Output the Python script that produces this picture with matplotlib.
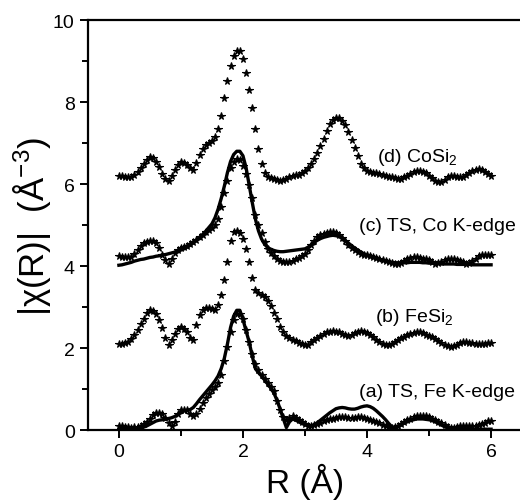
import numpy as np
import matplotlib
matplotlib.use("Agg")
import matplotlib.pyplot as plt
from matplotlib.ticker import MultipleLocator

plt.rcParams['font.family'] = ['Liberation Sans', 'DejaVu Sans']
plt.rcParams['mathtext.default'] = 'regular'

# R grid (Angstrom), 0 to 6 in steps of 0.05
r = np.round(np.arange(0, 121) * 0.05, 2)

# (d) CoSi2 data (stars)
d_data = [6.20, 6.19, 6.18, 6.17, 6.17, 6.22, 6.30, 6.40, 6.50, 6.59,
          6.65, 6.63, 6.55, 6.42, 6.25, 6.12, 6.08, 6.20, 6.35, 6.47,
          6.53, 6.52, 6.47, 6.40, 6.35, 6.52, 6.70, 6.85, 6.95, 7.00,
          7.05, 7.15, 7.35, 7.65, 8.10, 8.52, 8.87, 9.12, 9.25, 9.25,
          9.05, 8.72, 8.30, 7.85, 7.35, 6.85, 6.49, 6.28, 6.18, 6.14,
          6.12, 6.10, 6.08, 6.09, 6.12, 6.17, 6.20, 6.22, 6.22, 6.27,
          6.33, 6.40, 6.48, 6.60, 6.75, 6.92, 7.10, 7.30, 7.46, 7.56,
          7.62, 7.62, 7.55, 7.44, 7.28, 7.08, 6.88, 6.68, 6.50, 6.39,
          6.32, 6.30, 6.28, 6.26, 6.24, 6.22, 6.20, 6.18, 6.16, 6.14,
          6.12, 6.13, 6.16, 6.20, 6.25, 6.29, 6.32, 6.32, 6.30, 6.26,
          6.20, 6.14, 6.08, 6.04, 6.04, 6.10, 6.17, 6.20, 6.20, 6.18,
          6.16, 6.18, 6.22, 6.27, 6.32, 6.35, 6.37, 6.34, 6.30, 6.25,
          6.20]

# (c) TS, Co K-edge data (stars) and fit (line)
c_data = [4.25, 4.23, 4.22, 4.21, 4.22, 4.30, 4.40, 4.48, 4.55, 4.59,
          4.62, 4.60, 4.55, 4.45, 4.28, 4.15, 4.05, 4.18, 4.33, 4.40,
          4.44, 4.47, 4.50, 4.54, 4.58, 4.64, 4.70, 4.76, 4.82, 4.87,
          4.92, 5.00, 5.15, 5.45, 5.78, 6.08, 6.38, 6.55, 6.62, 6.58,
          6.45, 6.25, 5.98, 5.65, 5.25, 5.00, 4.80, 4.58, 4.42, 4.32,
          4.24, 4.18, 4.13, 4.10, 4.09, 4.10, 4.12, 4.16, 4.20, 4.24,
          4.30, 4.40, 4.52, 4.62, 4.70, 4.75, 4.78, 4.80, 4.82, 4.82,
          4.80, 4.75, 4.68, 4.60, 4.52, 4.45, 4.40, 4.35, 4.30, 4.28,
          4.26, 4.24, 4.22, 4.20, 4.18, 4.15, 4.13, 4.10, 4.07, 4.05,
          4.05, 4.08, 4.12, 4.16, 4.20, 4.21, 4.21, 4.20, 4.18, 4.16,
          4.14, 4.10, 4.06, 4.07, 4.10, 4.14, 4.17, 4.17, 4.16, 4.14,
          4.12, 4.09, 4.06, 4.07, 4.12, 4.18, 4.24, 4.27, 4.28, 4.28,
          4.28]
c_fit = [4.02, 4.03, 4.05, 4.07, 4.09, 4.12, 4.14, 4.16, 4.17, 4.19,
         4.21, 4.22, 4.24, 4.25, 4.27, 4.28, 4.30, 4.32, 4.34, 4.36,
         4.39, 4.42, 4.46, 4.51, 4.57, 4.63, 4.70, 4.77, 4.85, 4.94,
         5.03, 5.18, 5.39, 5.65, 5.95, 6.28, 6.55, 6.72, 6.80, 6.80,
         6.69, 6.40, 5.98, 5.55, 5.15, 4.86, 4.66, 4.53, 4.45, 4.41,
         4.38, 4.36, 4.35, 4.35, 4.36, 4.37, 4.38, 4.39, 4.40, 4.41,
         4.42, 4.46, 4.52, 4.58, 4.63, 4.67, 4.70, 4.72, 4.74, 4.75,
         4.74, 4.72, 4.68, 4.62, 4.56, 4.50, 4.44, 4.39, 4.34, 4.30,
         4.26, 4.23, 4.21, 4.18, 4.16, 4.14, 4.12, 4.10, 4.09, 4.08,
         4.08, 4.08, 4.08, 4.08, 4.09, 4.09, 4.09, 4.09, 4.08, 4.08,
         4.07, 4.07, 4.06, 4.06, 4.05, 4.05, 4.05, 4.05, 4.05, 4.04,
         4.04, 4.04, 4.04, 4.04, 4.03, 4.03, 4.03, 4.03, 4.03, 4.03,
         4.03]

# (b) FeSi2 data (stars)
b_data = [2.10, 2.11, 2.12, 2.15, 2.22, 2.32, 2.45, 2.58, 2.72, 2.85,
          2.93, 2.90, 2.82, 2.68, 2.48, 2.25, 2.08, 2.20, 2.35, 2.46,
          2.52, 2.47, 2.38, 2.25, 2.20, 2.55, 2.80, 2.92, 2.98, 2.98,
          2.95, 2.92, 3.05, 3.30, 3.65, 4.10, 4.60, 4.82, 4.86, 4.80,
          4.65, 4.42, 4.10, 3.72, 3.42, 3.35, 3.30, 3.24, 3.15, 3.02,
          2.85, 2.70, 2.52, 2.40, 2.30, 2.24, 2.20, 2.16, 2.12, 2.09,
          2.08, 2.08, 2.15, 2.20, 2.25, 2.30, 2.35, 2.38, 2.40, 2.41,
          2.40, 2.38, 2.35, 2.32, 2.30, 2.32, 2.36, 2.40, 2.42, 2.40,
          2.36, 2.31, 2.26, 2.20, 2.15, 2.10, 2.07, 2.07, 2.10, 2.15,
          2.20, 2.24, 2.28, 2.31, 2.34, 2.36, 2.38, 2.38, 2.36, 2.33,
          2.30, 2.26, 2.22, 2.17, 2.12, 2.07, 2.04, 2.03, 2.04, 2.08,
          2.12, 2.14, 2.14, 2.13, 2.12, 2.11, 2.10, 2.10, 2.11, 2.12,
          2.12]

# (a) TS, Fe K-edge data (stars) and fit (line)
a_data = [0.10, 0.09, 0.08, 0.07, 0.06, 0.07, 0.08, 0.10, 0.14, 0.20,
          0.28, 0.36, 0.42, 0.42, 0.38, 0.30, 0.18, 0.10, 0.20, 0.38,
          0.48, 0.50, 0.48, 0.40, 0.33, 0.40, 0.52, 0.65, 0.78, 0.88,
          0.97, 1.05, 1.15, 1.35, 1.68, 2.02, 2.40, 2.68, 2.82, 2.82,
          2.70, 2.45, 2.15, 1.85, 1.62, 1.47, 1.35, 1.25, 1.15, 1.06,
          0.95, 0.72, 0.48, 0.32, 0.25, 0.30, 0.33, 0.29, 0.24, 0.19,
          0.14, 0.11, 0.10, 0.12, 0.14, 0.18, 0.21, 0.24, 0.26, 0.28,
          0.30, 0.31, 0.31, 0.31, 0.30, 0.30, 0.30, 0.31, 0.31, 0.30,
          0.28, 0.25, 0.22, 0.19, 0.16, 0.13, 0.10, 0.07, 0.06, 0.07,
          0.10, 0.15, 0.20, 0.24, 0.28, 0.31, 0.33, 0.35, 0.35, 0.34,
          0.32, 0.28, 0.24, 0.20, 0.16, 0.12, 0.08, 0.06, 0.06, 0.08,
          0.09, 0.10, 0.10, 0.10, 0.10, 0.11, 0.12, 0.15, 0.18, 0.21,
          0.23]
a_fit = [0.02, 0.02, 0.02, 0.02, 0.03, 0.03, 0.04, 0.05, 0.07, 0.10,
         0.14, 0.18, 0.22, 0.24, 0.25, 0.26, 0.28, 0.30, 0.33, 0.38,
         0.44, 0.47, 0.48, 0.50, 0.55, 0.64, 0.74, 0.83, 0.92, 1.01,
         1.10, 1.20, 1.32, 1.50, 1.75, 2.10, 2.50, 2.78, 2.92, 2.92,
         2.70, 2.42, 2.15, 1.80, 1.50, 1.40, 1.32, 1.22, 1.12, 1.02,
         0.90, 0.72, 0.51, 0.28, 0.06, 0.20, 0.27, 0.24, 0.20, 0.16,
         0.13, 0.11, 0.10, 0.13, 0.18, 0.24, 0.30, 0.36, 0.42, 0.47,
         0.52, 0.54, 0.55, 0.54, 0.52, 0.51, 0.51, 0.53, 0.56, 0.58,
         0.59, 0.57, 0.53, 0.47, 0.40, 0.33, 0.25, 0.16, 0.08, 0.06,
         0.08, 0.12, 0.17, 0.20, 0.23, 0.25, 0.27, 0.27, 0.27, 0.26,
         0.25, 0.23, 0.20, 0.16, 0.12, 0.08, 0.05, 0.04, 0.03, 0.02,
         0.02, 0.02, 0.02, 0.02, 0.02, 0.02, 0.02, 0.02, 0.02, 0.02,
         0.02]

labels = ["(a) TS, Fe K-edge", "(b) FeSi$_2$", "(c) TS, Co K-edge", "(d) CoSi$_2$"]
label_pos = [(5.13, 0.95), (4.76, 2.78), (5.13, 4.98), (4.81, 6.68)]

fig = plt.figure(figsize=(5.2, 5.02), dpi=100)
ax = fig.add_axes([0.169, 0.1414, 0.835, 0.8166])

star = dict(ls='none', marker='*', ms=5.5, mew=0.8, color='black')
for y in (a_data, b_data, c_data, d_data):
    ax.plot(r, y, **star)
ax.plot(r, a_fit, color='black', lw=2.4)
ax.plot(r, c_fit, color='black', lw=2.4)

for txt, (x, y) in zip(labels, label_pos):
    ax.text(x, y, txt, ha='center', va='center', fontsize=14)

ax.set_xlim(-0.5, 6.5)
ax.set_ylim(0, 10)
ax.xaxis.set_major_locator(MultipleLocator(2))
ax.xaxis.set_minor_locator(MultipleLocator(1))
ax.yaxis.set_major_locator(MultipleLocator(2))
ax.yaxis.set_minor_locator(MultipleLocator(1))
ax.spines['right'].set_visible(False)
for s in ('left', 'bottom', 'top'):
    ax.spines[s].set_linewidth(1.6)
ax.tick_params(which='both', direction='out', width=1.4, labelsize=14, top=False, right=False)
ax.tick_params(which='major', length=6)
ax.tick_params(which='minor', length=4)

ax.set_xlabel("R (Å)", fontsize=24, labelpad=2)
ax.set_ylabel("|χ(R)|  (Å$^{-3}$)", fontsize=25, labelpad=0)

fig.savefig("out.png", dpi=100)
